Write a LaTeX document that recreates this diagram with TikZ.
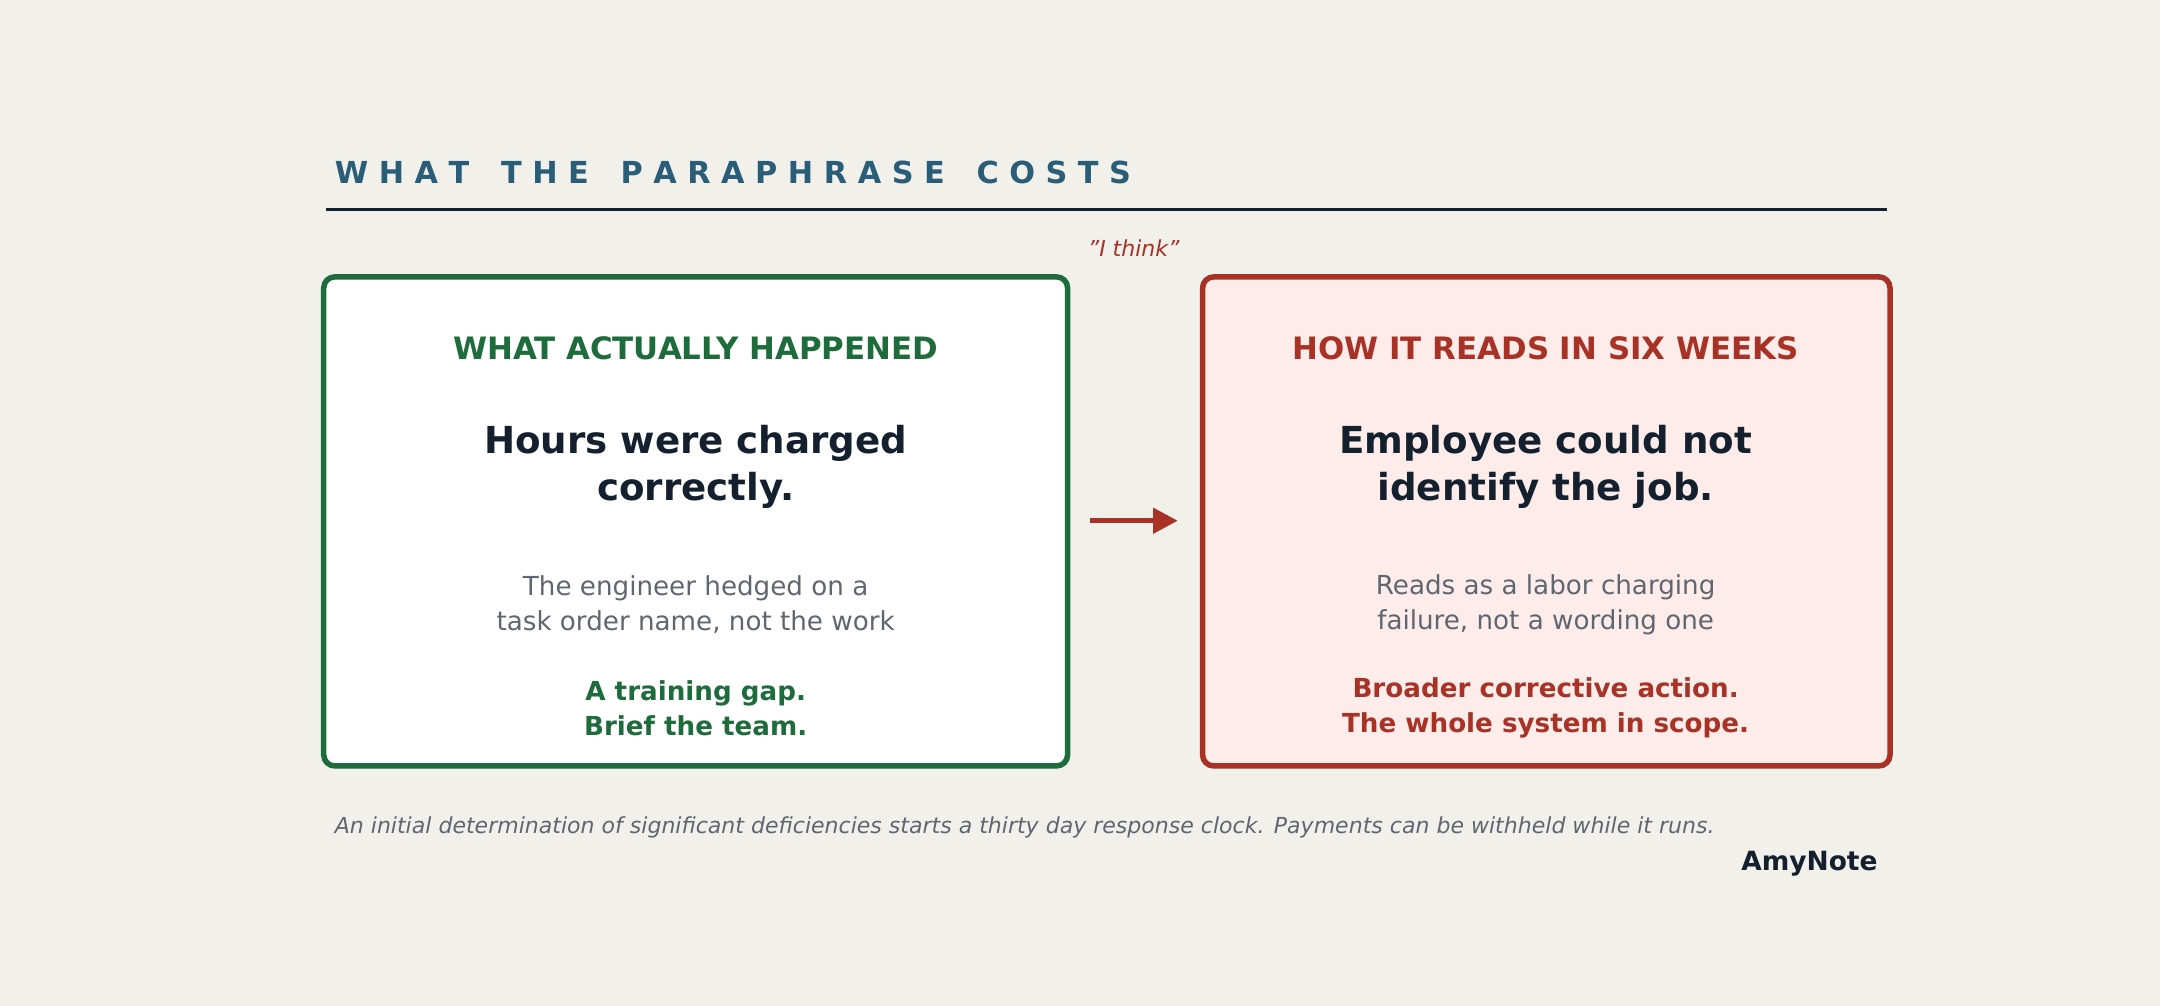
\documentclass[tikz,border=0pt]{standalone}
\usepackage{fontspec}
\setmainfont{DejaVu Sans}
\usetikzlibrary{arrows.meta}
\definecolor{bg}{HTML}{F1F0EB}
\definecolor{ttl}{HTML}{2A5D78}
\definecolor{grn}{HTML}{1E6B3C}
\definecolor{red}{HTML}{A93226}
\definecolor{pink}{HTML}{FDECEA}
\definecolor{dark}{HTML}{14202E}
\definecolor{gry}{HTML}{5F6670}
\begin{document}
\begin{tikzpicture}[x=0.5pt,y=-0.5pt,
  box/.style={line width=2pt,rounded corners=4pt},
  head/.style={font=\fontsize{11.2}{13}\selectfont\bfseries},
  main/.style={font=\fontsize{13.5}{17}\selectfont\bfseries,text=dark,align=center},
  sub/.style={font=\fontsize{9.5}{12.5}\selectfont,text=gry,align=center},
  concl/.style={font=\fontsize{9.5}{12.5}\selectfont\bfseries,align=center}]
\fill[bg] (0,0) rectangle (1568,730);
\useasboundingbox (0,0) rectangle (1568,730);
\node[anchor=base west,text=ttl,font=\fontsize{11}{13}\selectfont\bfseries] (title) at (236,133) {W H A T \ \ T H E \ \ P A R A P H R A S E \ \ C O S T S};
\coordinate (r1) at (237,152); \coordinate (r2) at (1370,152);
\draw[dark,line width=0.8pt] (r1) -- (r2);
\node[text=red,font=\fontsize{8}{10}\selectfont\itshape] (think) at (823,180) {\symbol{34}I think\symbol{34}};
\draw[box,grn,fill=white] (235,201) rectangle (775,556);
\draw[box,red,fill=pink] (873,201) rectangle (1372,556);
\node[head,text=grn] (lh) at (505,253) {WHAT ACTUALLY HAPPENED};
\node[head,text=red] (rh) at (1122,253) {HOW IT READS IN SIX WEEKS};
\node[main] (lm) at (505,339) {Hours were charged\\correctly.};
\node[main] (rm) at (1122,339) {Employee could not\\identify the job.};
\node[sub] (ls) at (505,439) {The engineer hedged on a\\task order name, not the work};
\node[sub] (rs) at (1122,439) {Reads as a labor charging\\failure, not a wording one};
\node[concl,text=grn] (lc) at (505,514) {A training gap.\\Brief the team.};
\node[concl,text=red] (rc) at (1122,514) {Broader corrective action.\\The whole system in scope.};
\coordinate (a1) at (791,378); \coordinate (a2) at (855,378);
\draw[red,line width=2pt,-{Triangle[length=9pt,width=9pt]}] (a1) -- (a2);
\node[anchor=base west,text=gry,font=\fontsize{8}{10}\selectfont\itshape] (foot) at (236,605) {An initial determination of significant deficiencies starts a thirty day response clock. Payments can be withheld while it runs.};
\node[anchor=base east,text=dark,font=\fontsize{9.6}{12}\selectfont\bfseries] (brand) at (1370,632) {AmyNote};
\end{tikzpicture}
\end{document}
